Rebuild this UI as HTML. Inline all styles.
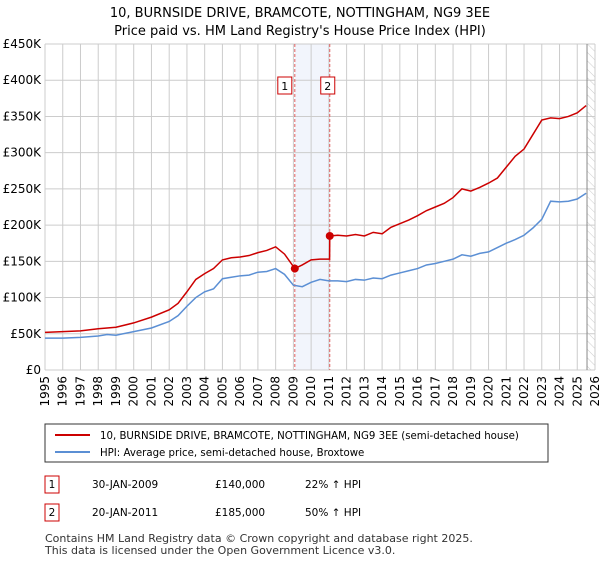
<!DOCTYPE html>
<html><head><meta charset="utf-8"><style>
body{margin:0;background:#fff;font-family:"Liberation Sans","DejaVu Sans",sans-serif;}
svg text{font-family:"DejaVu Sans","Liberation Sans",sans-serif;}
</style></head><body>
<svg id="chart" width="600" height="560">
<text x="300" y="17" text-anchor="middle" font-size="13" fill="#000">10, BURNSIDE DRIVE, BRAMCOTE, NOTTINGHAM, NG9 3EE</text>
<text x="300" y="35" text-anchor="middle" font-size="13" fill="#000">Price paid vs. HM Land Registry's House Price Index (HPI)</text>
<g id="plot"></g>
<g>
<rect x="45" y="424" width="503" height="38" fill="#fff" stroke="#333"/>
<line x1="55" y1="435" x2="90" y2="435" stroke="#cc0000" stroke-width="2"/>
<text x="100" y="439" font-size="10.2">10, BURNSIDE DRIVE, BRAMCOTE, NOTTINGHAM, NG9 3EE (semi-detached house)</text>
<line x1="55" y1="452" x2="90" y2="452" stroke="#5b8fd4" stroke-width="2"/>
<text x="100" y="456" font-size="10.2">HPI: Average price, semi-detached house, Broxtowe</text>
</g>
<g>
<rect x="45" y="476" width="14" height="17" fill="#fff" stroke="#cc0000"/>
<text x="52" y="488" font-size="10.5" text-anchor="middle">1</text>
<text x="92" y="488" font-size="10.5">30-JAN-2009</text>
<text x="215" y="488" font-size="10.5">£140,000</text>
<text x="305" y="488" font-size="10.5">22% ↑ HPI</text>
<rect x="45" y="504" width="14" height="17" fill="#fff" stroke="#cc0000"/>
<text x="52" y="516" font-size="10.5" text-anchor="middle">2</text>
<text x="92" y="516" font-size="10.5">20-JAN-2011</text>
<text x="215" y="516" font-size="10.5">£185,000</text>
<text x="305" y="516" font-size="10.5">50% ↑ HPI</text>
</g>
<text x="45" y="542" font-size="11" fill="#333">Contains HM Land Registry data © Crown copyright and database right 2025.</text>
<text x="45" y="554" font-size="11" fill="#333">This data is licensed under the Open Government Licence v3.0.</text>
</svg>
<script>
const yTicks=[0,50,100,150,200,250,300,350,400,450];
const xYears=[1995,1996,1997,1998,1999,2000,2001,2002,2003,2004,2005,2006,2007,2008,2009,2010,2011,2012,2013,2014,2015,2016,2017,2018,2019,2020,2021,2022,2023,2024,2025,2026];
const hpiT=[1995,1996,1997,1998,1998.5,1999,2000,2001,2002,2002.5,2003,2003.5,2004,2004.5,2005,2005.5,2006,2006.5,2007,2007.5,2008,2008.5,2009,2009.5,2010,2010.5,2011,2011.5,2012,2012.5,2013,2013.5,2014,2014.5,2015,2015.5,2016,2016.5,2017,2017.5,2018,2018.5,2019,2019.5,2020,2020.5,2021,2021.5,2022,2022.5,2023,2023.5,2024,2024.5,2025,2025.5];
const hpiV=[44,44,45,47,49,48,53,58,67,75,88,100,108,112,126,128,130,131,135,136,140,132,117,115,121,125,123,123,122,125,124,127,126,131,134,137,140,145,147,150,153,159,157,161,163,169,175,180,186,196,208,233,232,233,236,244];
const redT=[1995,1996,1997,1998,1999,2000,2001,2002,2002.5,2003,2003.5,2004,2004.5,2005,2005.5,2006,2006.5,2007,2007.5,2008,2008.5,2009.08,2009.5,2010,2010.5,2011.04,2011.05,2011.5,2012,2012.5,2013,2013.5,2014,2014.5,2015,2015.5,2016,2016.5,2017,2017.5,2018,2018.5,2019,2019.5,2020,2020.5,2021,2021.5,2022,2022.5,2023,2023.5,2024,2024.5,2025,2025.5];
const redV=[52,53,54,57,59,65,73,83,92,108,125,133,140,152,155,156,158,162,165,170,160,140,145,152,153,153,185,186,185,187,185,190,188,197,202,207,213,220,225,230,238,250,247,252,258,265,280,295,305,325,345,348,347,350,355,365];
const saleT=[2009.08,2011.05];
const saleV=[140,185];
const saleLabels=["1","2"];
const X0=45,X1=595,Y0=370,Y1=44;
const xs=t=>X0+(t-1995)/31*(X1-X0);
const ys=v=>Y0-v/450*(Y0-Y1);
const NS="http://www.w3.org/2000/svg";
const g=document.getElementById('plot');
function mk(tag,attrs){const e=document.createElementNS(NS,tag);for(const k in attrs)e.setAttribute(k,attrs[k]);g.appendChild(e);return e;}
let r=mk('rect',{x:xs(saleT[0]),y:Y1,width:xs(saleT[1])-xs(saleT[0]),height:Y0-Y1,fill:'#f2f5fc'});


const defs=document.createElementNS(NS,'defs');
defs.innerHTML='<pattern id="hatch" width="6" height="6" patternUnits="userSpaceOnUse" patternTransform="rotate(-45)"><line x1="0" y1="0" x2="0" y2="6" stroke="#ccc" stroke-width="1"/></pattern>';
g.appendChild(defs);
let h=mk('rect',{x:xs(2025.55),y:Y1,width:X1-xs(2025.55),height:Y0-Y1,fill:'url(#hatch)'});


yTicks.forEach(v=>{
  let l=mk('line',{x1:X0,x2:X1,y1:ys(v),y2:ys(v),stroke:'#ccc'});
  
  
  let t=mk('text',{x:X0-4,y:ys(v)+4,'text-anchor':'end','font-size':'12',fill:'#000'});
  t.textContent=v===0?'£0':'£'+v+'K';
  
  
});
xYears.forEach(yr=>{
  let l=mk('line',{x1:xs(yr),x2:xs(yr),y1:Y1,y2:Y0,stroke:'#ccc'});
  
  
  let t=mk('text',{x:0,y:0,'text-anchor':'end','font-size':'12',transform:`translate(${xs(yr)+4},${Y0+6}) rotate(-90)`});
  t.textContent=yr;
  
  
});
let e=mk('line',{x1:xs(2025.55),x2:xs(2025.55),y1:Y1,y2:Y0,stroke:'#888'});


saleT.forEach((t,i)=>{
  let l=mk('line',{x1:xs(t),x2:xs(t),y1:Y1,y2:Y0,stroke:'#e06060','stroke-dasharray':'3,2'});
  
  
});
let p=mk('polyline',{points:hpiT.map((t,i)=>xs(t)+','+ys(hpiV[i])).join(' '),fill:'none',stroke:'#5b8fd4','stroke-width':1.5});


let q=mk('polyline',{points:redT.map((t,i)=>xs(t)+','+ys(redV[i])).join(' '),fill:'none',stroke:'#cc0000','stroke-width':1.5});


saleT.forEach((t,i)=>{
  let c=mk('circle',{cx:xs(t),cy:ys(saleV[i]),r:4,fill:'#cc0000'});
  
  
  let b=mk('rect',{x:xs(t)-17,y:77,width:14,height:17,fill:'#fff',stroke:'#cc0000'});
  if(i==1)b.setAttribute('x',xs(t)-9);
  
  
  let tx=mk('text',{x:+b.getAttribute('x')+7,y:90,'text-anchor':'middle','font-size':'11'});
  tx.textContent=saleLabels[i];
  
  
});
</script>
</body></html>
